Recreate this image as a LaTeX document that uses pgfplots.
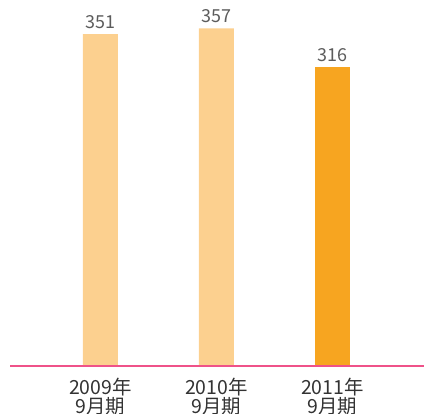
\documentclass[border=0pt]{standalone}
\usepackage{pgfplots}
\pgfplotsset{compat=1.18}
\usepackage{fontspec}
\newfontfamily\cjk{Noto Sans CJK JP}
\definecolor{barlight}{HTML}{FCD08F}
\definecolor{bardark}{HTML}{F7A520}
\definecolor{pinkline}{HTML}{EF5289}
\definecolor{txt}{HTML}{333333}
\begin{document}
\begin{tikzpicture}
\useasboundingbox (0,0) rectangle (424bp,414bp);
\begin{axis}[
  at={(10bp,48bp)}, anchor=south west,
  scale only axis,
  width=414bp, height=366bp,
  xmin=-0.780, xmax=2.789,
  ymin=0, ymax=387,
  axis line style={draw=none},
  ytick=\empty,
  xtick={0,1,2},
  xticklabels={{2009年\\9月期},{2010年\\9月期},{2011年\\9月期}},
  major tick length=0pt,
  x tick label style={align=center, font=\cjk\fontsize{19.5}{18.5}\selectfont, text=txt, inner sep=0pt, anchor=north, yshift=-12bp},
  ybar, bar width=35bp, bar shift=0pt,
  /pgf/number format/assume math mode=true,
  nodes near coords,
  every node near coord/.append style={font=\cjk\fontsize{18}{18}\selectfont, text=txt!80, inner sep=0pt, yshift=5.5bp},
  clip=false,
]
\addplot[fill=barlight, draw=none] coordinates {(0,351) (1,357)};
\addplot[fill=bardark, draw=none] coordinates {(2,316)};
\draw[pinkline, line width=1.6bp] (axis cs:-0.780,0) -- (axis cs:2.789,0);
\end{axis}
\end{tikzpicture}
\end{document}
